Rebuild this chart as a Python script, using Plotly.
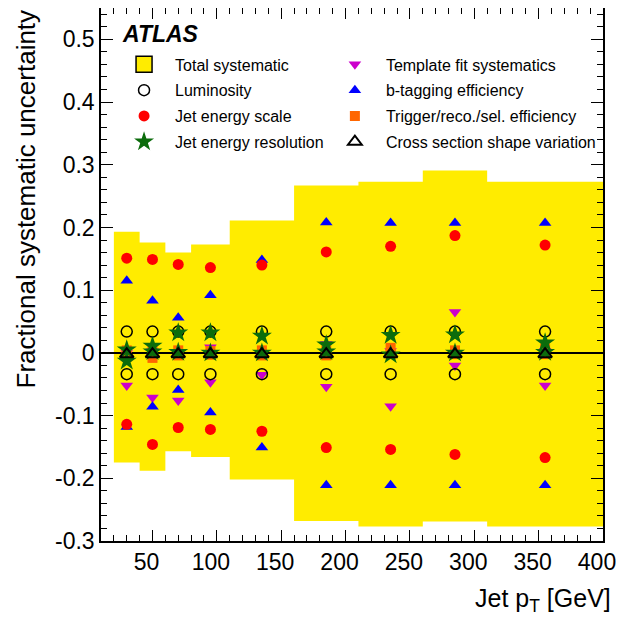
import plotly.graph_objects as go

# ---------------- data ----------------
bin_edges = [20, 40, 60, 80, 110, 160, 210, 260, 310, 400]
pt_points = [30, 50, 70, 95, 135, 185, 235, 285, 355]

total_up = [0.193, 0.176, 0.160, 0.173, 0.211, 0.267, 0.273, 0.291, 0.273]
total_down = [-0.175, -0.188, -0.157, -0.166, -0.202, -0.268, -0.277, -0.269, -0.277]

lumi_up = [0.034, 0.034, 0.034, 0.034, 0.034, 0.034, 0.034, 0.034, 0.034]
lumi_down = [-0.034, -0.034, -0.034, -0.034, -0.034, -0.034, -0.034, -0.034, -0.034]

jes_up = [0.151, 0.149, 0.141, 0.136, 0.140, 0.161, 0.170, 0.187, 0.172]
jes_down = [-0.114, -0.146, -0.119, -0.122, -0.125, -0.151, -0.154, -0.162, -0.167]

jer_up = [0.005, 0.011, 0.032, 0.032, 0.027, 0.013, 0.028, 0.029, 0.016]
jer_down = [-0.013, 0.002, 0.001, 0.000, 0.000, 0.002, -0.003, 0.000, 0.001]

template_up = [0.000, 0.003, 0.002, 0.009, 0.000, 0.014, 0.003, 0.065, 0.003]
template_down = [-0.052, -0.071, -0.076, -0.047, -0.035, -0.054, -0.085, -0.020, -0.052]

btag_up = [0.115, 0.083, 0.056, 0.092, 0.148, 0.208, 0.207, 0.207, 0.207]
btag_down = [-0.118, -0.086, -0.059, -0.095, -0.151, -0.211, -0.211, -0.211, -0.211]

trig_up = [0.004, 0.003, 0.004, 0.003, 0.004, 0.004, 0.008, 0.004, 0.007]
trig_down = [-0.006, -0.008, -0.004, -0.003, -0.004, -0.004, -0.002, -0.002, -0.002]

xsec_shape = [-0.002, -0.002, -0.002, -0.002, -0.002, -0.002, -0.002, -0.002, -0.002]

x_range = [10, 400]
y_range = [-0.3, 0.55]
x_tickvals = [50, 100, 150, 200, 250, 300, 350, 400]
x_ticktext = ["50", "100", "150", "200", "250", "300", "350", "400"]
y_tickvals = [-0.3, -0.2, -0.1, 0.0, 0.1, 0.2, 0.3, 0.4, 0.5]
y_ticktext = ["-0.3", "-0.2", "-0.1", "0", "0.1", "0.2", "0.3", "0.4", "0.5"]

# ---------------- style ----------------
FONT = "Liberation Sans, Arial, Helvetica, sans-serif"
YELLOW = "#ffec00"
RED = "#ff0000"
GREEN = "#0c6c0c"
MAGENTA = "#cc00cc"
BLUE = "#0000ff"
ORANGE = "#ff6600"

fig = go.Figure()

# total systematic band: stepped upper / lower edges, filled between
fig.add_trace(go.Scatter(
    x=bin_edges, y=total_up + [total_up[-1]], mode="lines", line=dict(width=0, shape="hv"),
    showlegend=False, hoverinfo="skip"))
fig.add_trace(go.Scatter(
    x=bin_edges, y=total_down + [total_down[-1]], mode="lines", line=dict(width=0, shape="hv"),
    fill="tonexty", fillcolor=YELLOW, showlegend=False, hoverinfo="skip"))

# legend entry for the band
fig.add_trace(go.Scatter(
    x=[None], y=[None], mode="markers", name="Total systematic",
    legend="legend", legendgroup="tot", legendrank=1,
    marker=dict(symbol="square", size=16, color=YELLOW, line=dict(color="black", width=1.5))))

# zero line
fig.add_trace(go.Scatter(x=x_range, y=[0, 0], mode="lines",
                         line=dict(color="black", width=2), showlegend=False, hoverinfo="skip"))


def series(name, up, down, leg, rank, marker):
    fig.add_trace(go.Scatter(
        x=pt_points + pt_points, y=up + down, mode="markers", name=name,
        legend=leg, legendgroup=name, legendrank=rank, marker=marker))


series("Template fit systematics", template_up, template_down, "legend2", 1,
       dict(symbol="triangle-down", size=11, color=MAGENTA, line=dict(width=0)))
series("b-tagging efficiency", btag_up, btag_down, "legend2", 2,
       dict(symbol="triangle-up", size=11, color=BLUE, line=dict(width=0)))
series("Jet energy scale", jes_up, jes_down, "legend", 3,
       dict(symbol="circle", size=11, color=RED, line=dict(width=0)))
series("Luminosity", lumi_up, lumi_down, "legend", 2,
       dict(symbol="circle-open", size=11, color="black", line=dict(width=1.5)))
series("Trigger/reco./sel. efficiency", trig_up, trig_down, "legend2", 3,
       dict(symbol="square", size=10, color=ORANGE, line=dict(width=0)))
series("Jet energy resolution", jer_up, jer_down, "legend", 4,
       dict(symbol="star", size=15, color=GREEN, line=dict(width=0)))
fig.add_trace(go.Scatter(
    x=pt_points, y=xsec_shape, mode="markers", name="Cross section shape variation",
    legend="legend2", legendgroup="xsec", legendrank=4,
    marker=dict(symbol="triangle-up-open", size=12, color="black", line=dict(width=2))))

axis_common = dict(
    showline=True, linecolor="black", linewidth=1.5, mirror="allticks",
    ticks="inside", tickcolor="black", showgrid=False, zeroline=False,
    tickfont=dict(family=FONT, size=23, color="black"),
)

fig.update_xaxes(range=x_range, tickmode="array", tickvals=x_tickvals, ticktext=x_ticktext,
                 ticklen=11, tickwidth=1.2, ticklabelshift=-6,
                 minor=dict(ticks="inside", tick0=0, dtick=10, ticklen=6, tickcolor="black", tickwidth=1),
                 **axis_common)
fig.update_yaxes(range=y_range, tickmode="array", tickvals=y_tickvals, ticktext=y_ticktext,
                 ticklen=12, tickwidth=1.2,
                 minor=dict(ticks="inside", tick0=0, dtick=0.02, ticklen=6, tickcolor="black", tickwidth=1),
                 **axis_common)

legend_common = dict(orientation="v", xanchor="left", yanchor="top",
                     bgcolor="rgba(0,0,0,0)", font=dict(family=FONT, size=16, color="black"),
                     itemwidth=52, traceorder="grouped", tracegroupgap=2)

# page has an 8 px body margin: the figure is sized so the plot lands where the reference has it
fig.update_layout(
    width=616, height=612,
    margin=dict(l=93, r=21, t=0, b=79, autoexpand=False),
    plot_bgcolor="white", paper_bgcolor="white",
    font=dict(family=FONT, color="black"),
    showlegend=True,
    legend=dict(x=0.024, y=0.926, **legend_common),
    legend2=dict(x=0.444, y=0.926, **legend_common),
    annotations=[
        dict(text="<b><i>ATLAS</i></b>", xref="paper", yref="paper", x=0.037, y=0.952,
             xanchor="left", yanchor="middle", showarrow=False,
             font=dict(family=FONT, size=23, color="black")),
        dict(text="Jet p<sub>T</sub> [GeV]", xref="paper", yref="paper", x=1.0, y=0.0,
             xanchor="right", yanchor="middle", xshift=10, yshift=-59, showarrow=False,
             font=dict(family=FONT, size=25, color="black")),
        dict(text="Fractional systematic uncertainty", xref="paper", yref="paper", x=0.0, y=1.0,
             xanchor="center", yanchor="top", xshift=-76, yshift=0, textangle=-90, showarrow=False,
             font=dict(family=FONT, size=26, color="black")),
    ],
)

fig.write_html("out.html")
